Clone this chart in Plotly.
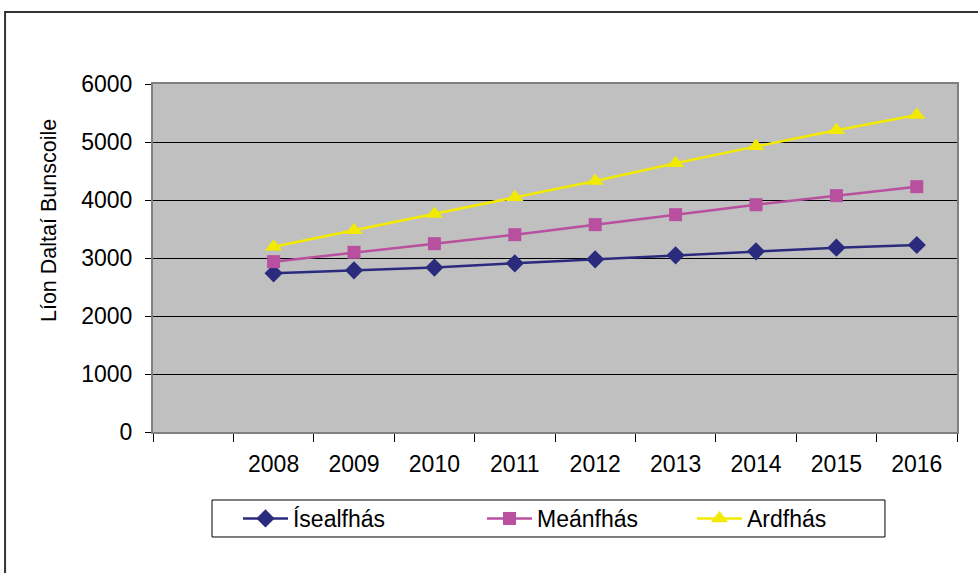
import plotly.graph_objects as go

years = ["2008", "2009", "2010", "2011", "2012", "2013", "2014", "2015", "2016"]
categories = [" "] + years
iseal = [2736, 2788, 2835, 2908, 2977, 3046, 3115, 3178, 3224]
mean = [2937, 3098, 3247, 3402, 3575, 3747, 3919, 4075, 4230]
ard = [3195, 3477, 3759, 4046, 4328, 4632, 4925, 5201, 5466]
series_names = ["Ísealfhás", "Meánfhás", "Ardfhás"]
y_title = "Líon Daltaí Bunscoile"
y_ticks = [0, 1000, 2000, 3000, 4000, 5000, 6000]

FONT = "Liberation Sans, Arial, sans-serif"
FS = 23

fig = go.Figure()
fig.add_trace(go.Scatter(x=years, y=iseal, name=series_names[0], mode="lines+markers",
                         legend="legend",
                         line=dict(color="#2b2b7e", width=2.5),
                         marker=dict(symbol="diamond", size=14, color="#2b2b7e")))
fig.add_trace(go.Scatter(x=years, y=mean, name=series_names[1], mode="lines+markers",
                         legend="legend2",
                         line=dict(color="#b8509f", width=2.5),
                         marker=dict(symbol="square", size=13, color="#b8509f")))
fig.add_trace(go.Scatter(x=years, y=ard, name=series_names[2], mode="lines+markers",
                         legend="legend3",
                         line=dict(color="#f2ea00", width=2.5),
                         marker=dict(symbol="triangle-up", size=15, color="#f2ea00")))

leg_common = dict(orientation="h", y=-0.1868, xanchor="left", yanchor="top",
                  borderwidth=0, bgcolor="rgba(0,0,0,0)", itemwidth=45,
                  font=dict(family=FONT, size=FS, color="black"))

fig.update_layout(
    width=978, height=573,
    margin=dict(l=153, r=21, t=84, b=141),
    paper_bgcolor="white",
    plot_bgcolor="#c0c0c0",
    font=dict(family=FONT, size=FS, color="black"),
    showlegend=True,
    legend=dict(x=0.1057, **leg_common),
    legend2=dict(x=0.4092, **leg_common),
    legend3=dict(x=0.6704, **leg_common),
    xaxis=dict(type="category", categoryorder="array", categoryarray=categories,
               range=[-0.5, 9.5], tickson="boundaries", ticks="outside", ticklen=8,
               tickcolor="black", tickwidth=1, showgrid=False,
               showline=True, linecolor="#808080", linewidth=2, mirror=True,
               ticklabelstandoff=10, tickfont=dict(family=FONT, size=FS)),
    yaxis=dict(range=[0, 6000], tickvals=y_ticks, ticks="outside", ticklen=6,
               tickcolor="black", tickwidth=1, showgrid=True, gridcolor="black",
               gridwidth=1, zeroline=True, zerolinecolor="black", zerolinewidth=1,
               showline=True, linecolor="#808080", linewidth=2, mirror=True,
               ticklabelstandoff=8, tickfont=dict(family=FONT, size=FS)),
    annotations=[dict(text=y_title, xref="paper", yref="paper", x=-0.1294, y=0.609,
                      xanchor="center", yanchor="middle", textangle=-90, showarrow=False,
                      font=dict(family=FONT, size=21.5, color="black"))],
    shapes=[
        dict(type="rect", xref="paper", yref="paper",
             x0=-0.184, x1=1.2, y0=-0.6, y1=1.207,
             line=dict(color="#333333", width=2), fillcolor="rgba(0,0,0,0)"),
        dict(type="rect", xref="paper", yref="paper",
             x0=0.0734, x1=0.9104, y0=-0.3017, y1=-0.1954,
             line=dict(color="black", width=1), fillcolor="rgba(0,0,0,0)"),
    ],
)

fig.write_html("out.html", config={"displayModeBar": False},
               post_script="document.body.style.margin='0px';")
